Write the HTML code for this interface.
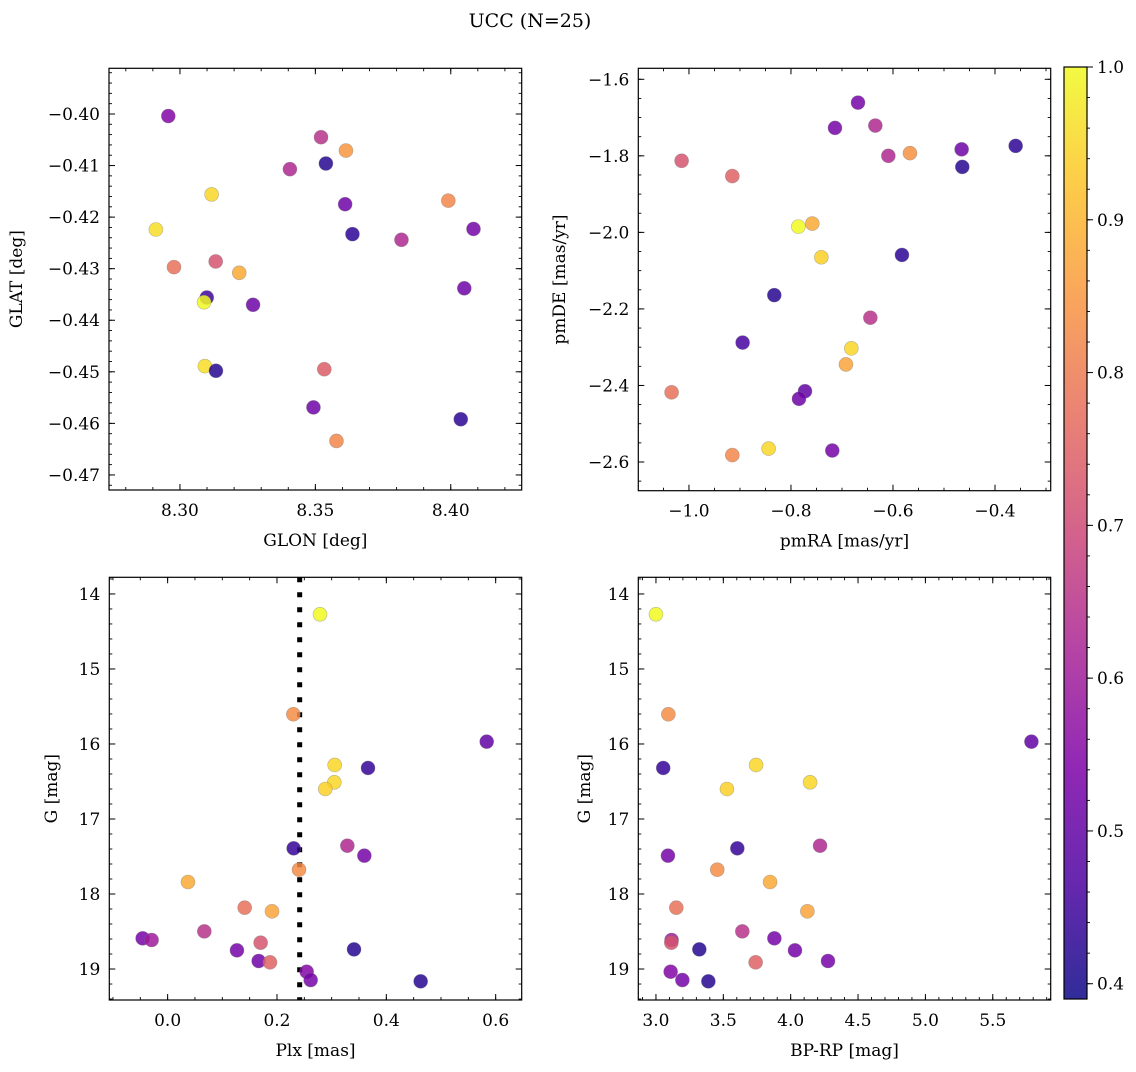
<!DOCTYPE html>
<html><head><meta charset="utf-8"><style>
html,body{margin:0;padding:0;background:#fff;}
svg text{font-family:"DejaVu Serif","Liberation Serif",serif;fill:#000;}
</style></head><body>
<svg id="fig" width="1136" height="1067" viewBox="0 0 1136 1067" xmlns="http://www.w3.org/2000/svg">
<text x="530" y="27" font-size="19" text-anchor="middle">UCC (N=25)</text>
<defs><linearGradient id="plasma" x1="0" y1="1" x2="0" y2="0">
<stop offset="0" stop-color="#0d0887"/><stop offset="0.125" stop-color="#4c02a1"/><stop offset="0.25" stop-color="#7e03a8"/><stop offset="0.375" stop-color="#a92395"/><stop offset="0.5" stop-color="#cc4778"/><stop offset="0.625" stop-color="#e66c5c"/><stop offset="0.75" stop-color="#f89540"/><stop offset="0.875" stop-color="#fdc328"/><stop offset="1" stop-color="#f0f921"/>
</linearGradient></defs>
</svg>
<script>
// Panel 1: GLON / GLAT
const glon = [8.2957,8.3521,8.3613,8.3539,8.3406,8.3117,8.3610,8.3991,8.2911,8.3637,8.3818,8.4084,8.2978,8.3132,8.3219,8.3099,8.3089,8.3270,8.4050,8.3092,8.3133,8.3533,8.3493,8.4037,8.3578];
const glat = [-0.4004,-0.4045,-0.4071,-0.4096,-0.4107,-0.4156,-0.4175,-0.4168,-0.4224,-0.4233,-0.4244,-0.4223,-0.4297,-0.4286,-0.4308,-0.4356,-0.4365,-0.4370,-0.4338,-0.4489,-0.4498,-0.4495,-0.4569,-0.4592,-0.4634];
const c1 = [0.55,0.65,0.85,0.42,0.63,0.95,0.52,0.82,0.96,0.43,0.63,0.53,0.78,0.72,0.88,0.45,1.0,0.52,0.52,0.96,0.42,0.74,0.52,0.43,0.82];
// Panel 2: pmRA / pmDE
const pmra = [-0.6686,-0.7137,-0.6346,-0.6091,-0.5667,-0.4654,-0.3595,-0.4641,-1.0144,-0.9150,-0.7856,-0.7582,-0.7405,-0.5824,-0.8327,-0.6444,-0.8948,-0.6817,-0.6922,-1.0340,-0.7725,-0.7843,-0.9150,-0.8438,-0.7190];
const pmde = [-1.661,-1.727,-1.721,-1.800,-1.793,-1.783,-1.774,-1.829,-1.813,-1.853,-1.985,-1.977,-2.065,-2.059,-2.164,-2.223,-2.288,-2.303,-2.345,-2.418,-2.415,-2.435,-2.582,-2.565,-2.570];
const c2 = [0.53,0.53,0.63,0.63,0.84,0.52,0.43,0.42,0.72,0.75,1.0,0.88,0.94,0.43,0.42,0.65,0.46,0.95,0.87,0.78,0.50,0.52,0.82,0.95,0.53];
// Panel 3: Plx / G
const plx = [0.2787,0.2299,0.5836,0.3055,0.3665,0.3049,0.2884,0.2305,0.3287,0.3598,0.2403,0.0372,0.1409,0.1909,-0.0457,-0.0293,0.0671,0.1268,0.1701,0.1665,0.1872,0.3409,0.2543,0.2616,0.4628];
const gmag3 = [14.271,15.604,15.969,16.280,16.320,16.511,16.600,17.391,17.356,17.489,17.676,17.840,18.182,18.231,18.591,18.613,18.498,18.751,18.649,18.893,18.911,18.738,19.036,19.147,19.164];
const c3 = [1.0,0.83,0.5,0.95,0.44,0.95,0.94,0.44,0.63,0.53,0.83,0.88,0.78,0.87,0.53,0.6,0.65,0.53,0.72,0.52,0.75,0.42,0.55,0.53,0.42];
const plxLine = [0.2415];
// Panel 4: BP-RP / G
const bprp = [3.000,3.092,5.787,3.054,3.743,3.527,4.144,3.604,4.218,3.089,3.455,3.847,3.151,4.124,3.641,3.879,3.116,3.114,3.322,4.032,3.740,4.277,3.109,3.196,3.389];
const gmag4 = [14.271,15.604,15.969,16.320,16.280,16.600,16.511,17.391,17.356,17.489,17.676,17.840,18.182,18.231,18.498,18.591,18.613,18.649,18.738,18.751,18.911,18.893,19.036,19.147,19.164];
const c4 = [1.0,0.83,0.5,0.44,0.95,0.94,0.95,0.44,0.63,0.53,0.83,0.88,0.78,0.87,0.65,0.53,0.6,0.72,0.42,0.53,0.75,0.53,0.55,0.53,0.42];
// tick labels
const xt1 = ["8.30","8.35","8.40"], yt1 = ["−0.40","−0.41","−0.42","−0.43","−0.44","−0.45","−0.46","−0.47"];
const xt2 = ["−1.0","−0.8","−0.6","−0.4"], yt2 = ["−1.6","−1.8","−2.0","−2.2","−2.4","−2.6"];
const xt3 = ["0.0","0.2","0.4","0.6"], yt3 = ["14","15","16","17","18","19"];
const xt4 = ["3.0","3.5","4.0","4.5","5.0","5.5"], yt4 = ["14","15","16","17","18","19"];
const cbTicks = ["0.4","0.5","0.6","0.7","0.8","0.9","1.0"];

const NS="http://www.w3.org/2000/svg", svg=document.getElementById('fig');
function mk(t,a,p){const e=document.createElementNS(NS,t);for(const k in a)e.setAttribute(k,a[k]);(p||svg).appendChild(e);return e;}
const stops=[[13,8,135],[76,2,161],[126,3,168],[169,35,149],[204,71,120],[230,108,92],[248,149,64],[253,195,40],[240,249,33]];
const vmin=0.39,vmax=1.0;
function plasma(v){let t=(v-vmin)/(vmax-vmin);t=Math.max(0,Math.min(1,t))*8;const i=Math.min(7,Math.floor(t)),f=t-i;const a=stops[i],b=stops[i+1];return 'rgb('+a.map((x,k)=>Math.round(x+(b[k]-x)*f)).join(',')+')';}
function num(s){return parseFloat(s.replace('−','-'));}
const FS=17;

function panel(o){
  const g=mk('g',{});
  
  
  const sx=v=>o.L+(v-o.x0)/(o.x1-o.x0)*(o.R-o.L);
  const sy=v=>o.T+(v-o.y0)/(o.y1-o.y0)*(o.B-o.T);
  const rect=mk('rect',{x:o.L,y:o.T,width:o.R-o.L,height:o.B-o.T,fill:'#fff',stroke:'#000','stroke-width':1.2},g);
  
  
  const lo=Math.min(o.x0,o.x1),hi=Math.max(o.x0,o.x1);
  for(let v=Math.ceil(lo/o.xm-1e-6)*o.xm;v<=hi+1e-9;v+=o.xm){const x=sx(v);mk('line',{x1:x,x2:x,y1:o.B,y2:o.B-3,stroke:'#000','stroke-width':0.9},g);mk('line',{x1:x,x2:x,y1:o.T,y2:o.T+3,stroke:'#000','stroke-width':0.9},g);}
  const ylo=Math.min(o.y0,o.y1),yhi=Math.max(o.y0,o.y1);
  for(let v=Math.ceil(ylo/o.ym-1e-6)*o.ym;v<=yhi+1e-9;v+=o.ym){const y=sy(v);mk('line',{x1:o.L,x2:o.L+3,y1:y,y2:y,stroke:'#000','stroke-width':0.9},g);mk('line',{x1:o.R,x2:o.R-3,y1:y,y2:y,stroke:'#000','stroke-width':0.9},g);}
  o.xt.forEach(s=>{const x=sx(num(s));mk('line',{x1:x,x2:x,y1:o.B,y2:o.B-6,stroke:'#000','stroke-width':1},g);mk('line',{x1:x,x2:x,y1:o.T,y2:o.T+6,stroke:'#000','stroke-width':1},g);
    const t=mk('text',{x:x,y:o.B+26,'font-size':FS,'text-anchor':'middle'},g);t.textContent=s;
    
    });
  o.yt.forEach(s=>{const y=sy(num(s));mk('line',{x1:o.L,x2:o.L+6,y1:y,y2:y,stroke:'#000','stroke-width':1},g);mk('line',{x1:o.R,x2:o.R-6,y1:y,y2:y,stroke:'#000','stroke-width':1},g);
    const t=mk('text',{x:o.L-9,y:y+6,'font-size':FS,'text-anchor':'end'},g);t.textContent=s;
    
    });
  const xl=mk('text',{x:(o.L+o.R)/2,y:o.B+56,'font-size':FS,'text-anchor':'middle'},g);xl.textContent=o.xlab;
  
  
  const yx=o.ylx,yy=(o.T+o.B)/2;
  const yl=mk('text',{x:yx,y:yy,'font-size':FS,'text-anchor':'middle',transform:'rotate(-90 '+yx+' '+yy+')'},g);yl.textContent=o.ylab;
  
  
  if(o.vline){o.vline.forEach(v=>{const l=mk('line',{x1:sx(v),x2:sx(v),y1:o.T,y2:o.B,stroke:'#000','stroke-width':5,'stroke-dasharray':'5,10'},g);
    
    });}
  o.xs.forEach((v,i)=>{const c=mk('circle',{cx:sx(v),cy:sy(o.ys[i]),r:7,fill:plasma(o.cs[i]),'fill-opacity':0.85,stroke:'#777','stroke-opacity':0.5,'stroke-width':0.6},g);
    
    });
}
panel({name:'glon-glat-panel',L:109,R:521.7,T:68.3,B:490,x0:8.2738,x1:8.4262,y0:-0.39114,y1:-0.47292,xm:0.01,ym:0.002,xt:xt1,yt:yt1,xs:glon,ys:glat,cs:c1,xlab:'GLON [deg]',ylab:'GLAT [deg]',ylx:22});
panel({name:'pm-panel',L:638.3,R:1050.7,T:68.3,B:490.7,x0:-1.0993,x1:-0.2908,y0:-1.5713,y1:-2.675,xm:0.05,ym:0.05,xt:xt2,yt:yt2,xs:pmra,ys:pmde,cs:c2,xlab:'pmRA [mas/yr]',ylab:'pmDE [mas/yr]',ylx:565});
panel({name:'plx-g-panel',L:109.3,R:521.7,T:577.3,B:1000,x0:-0.1067,x1:0.6476,y0:13.778,y1:19.413,xm:0.05,ym:0.2,xt:xt3,yt:yt3,xs:plx,ys:gmag3,cs:c3,xlab:'Plx [mas]',ylab:'G [mag]',ylx:57,vline:plxLine});
panel({name:'cmd-panel',L:638.3,R:1050.7,T:577.3,B:1000,x0:2.869,x1:5.930,y0:13.778,y1:19.413,xm:0.1,ym:0.2,xt:xt4,yt:yt4,xs:bprp,ys:gmag4,cs:c4,xlab:'BP-RP [mag]',ylab:'G [mag]',ylx:590});
// colorbar
const cb=mk('g',{});


const cT=67,cB=999,cL=1064,cR=1087;
const cy=v=>cB-(v-vmin)/(vmax-vmin)*(cB-cT);
mk('rect',{x:cL,y:cT,width:cR-cL,height:cB-cT,fill:'url(#plasma)','fill-opacity':0.85,stroke:'#000','stroke-width':1.2},cb);
for(let v=0.40;v<=1.0001;v+=0.02){mk('line',{x1:cR,x2:cR+3,y1:cy(v),y2:cy(v),stroke:'#000','stroke-width':0.9},cb);}
cbTicks.forEach(s=>{const y=cy(num(s));mk('line',{x1:cR,x2:cR+6,y1:y,y2:y,stroke:'#000','stroke-width':1},cb);
  const t=mk('text',{x:cR+10,y:y+6,'font-size':FS},cb);t.textContent=s;
  
  });
</script>
</body></html>
